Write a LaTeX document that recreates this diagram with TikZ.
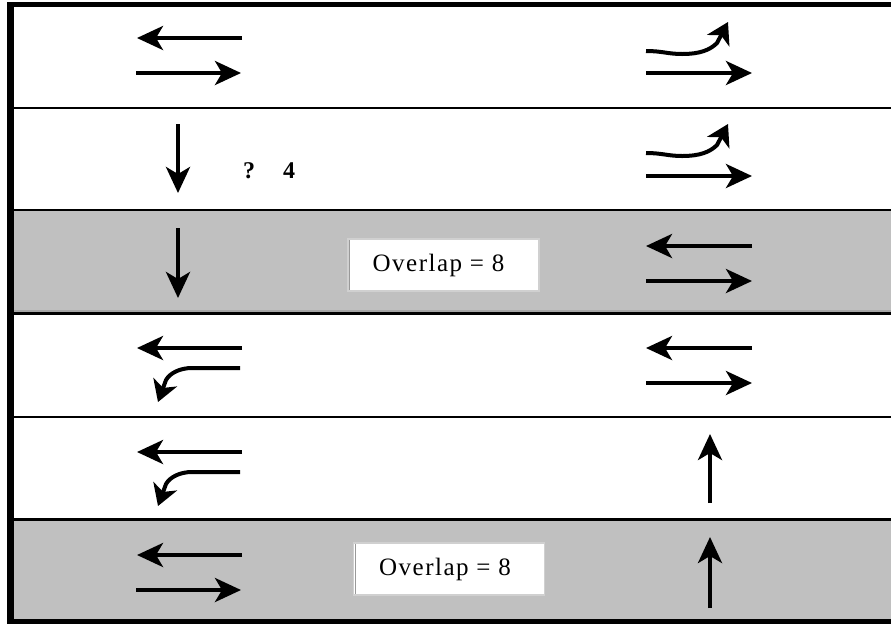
\documentclass[tikz,border=0pt]{standalone}
\usepackage{fontspec}
\setmainfont{Liberation Serif}
\newfontfamily\spacedfont[LetterSpace=6]{Liberation Serif}
\usetikzlibrary{arrows.meta}
\definecolor{band}{HTML}{C0C0C0}
\definecolor{boxedge}{HTML}{D0D0D0}
\tikzset{
  lane/.style={line width=4pt, -{Stealth[length=26pt, width=24pt, inset=7pt]}},
  turn/.style={line width=4pt, line join=round, -{Stealth[length=21pt, width=25pt, inset=6pt]}},
  rule/.style={line width=2.5pt},
  notebox/.style={fill=white, draw=boxedge, line width=1.2pt, minimum width=191pt,
    minimum height=52pt, inner sep=0pt},
  notetext/.style={font=\spacedfont\fontsize{25}{28}\selectfont, inner sep=0pt},
  marker/.style={font={\fontsize{24}{28}\selectfont\bfseries}, inner sep=0pt}
}
\begin{document}
\begin{tikzpicture}[x=1pt, y=-1pt]
\useasboundingbox (0,0) rectangle (891,625);

% shaded rows
\fill[band] (14,211) rectangle (891,312);
\fill[band] (14,521) rectangle (891,620);
\draw[gray!70, line width=1.5pt] (14,311) -- (891,311);

% row separators
\draw[rule] (14,108) -- (891,108);
\draw[rule] (14,210) -- (891,210);
\draw[rule] (14,313.5) -- (891,313.5);
\draw[rule] (14,417) -- (891,417);
\draw[rule] (14,519.5) -- (891,519.5);

% outer frame
\draw[line width=5pt] (7,4.5) -- (891,4.5);
\draw[line width=5pt] (7,621.5) -- (891,621.5);
\draw[line width=7pt] (10.5,2) -- (10.5,624);

% row 1
\draw[lane] (242,38) -- (137,38);
\draw[lane] (136,73) -- (241,73);
\draw[lane] (646,73) -- (752,73);

% right-turn arrows, rows 1 and 2
\foreach \dy in {0,102} {
  \draw[turn] (646,51+\dy) .. controls (662,51+\dy) and (668,54+\dy) .. (682,54+\dy)
    .. controls (700,54+\dy) and (710,50+\dy) .. (717,43+\dy) -- (728,22+\dy);
}

% row 2
\draw[lane] (178,124) -- (178,193);
\node[marker] (q) at (249,171) {?};
\node[marker] (four) at (289,171) {4};
\draw[lane] (646,176) -- (752,176);

% row 3
\draw[lane] (178,228) -- (178,298);
\node[notebox] (ov1) at (443.5,265) {};
\draw[gray!80, line width=0.8pt] ([xshift=2pt,yshift=-2pt]ov1.north west) -- ([xshift=2pt,yshift=2pt]ov1.south west);
\node[notetext] (ov1text) at ([xshift=-5pt]ov1.center) {Overlap = 8};
\draw[lane] (752,246) -- (646,246);
\draw[lane] (646,281) -- (752,281);

% row 4
\draw[lane] (242,348) -- (137,348);
\draw[lane] (752,348) -- (646,348);
\draw[lane] (646,383) -- (752,383);

% left-turn arrows, rows 4 and 5
\foreach \dy in {0,104} {
  \draw[turn] (240,368+\dy) -- (192,368+\dy)
    .. controls (180,368+\dy) and (170,373+\dy) .. (166,380+\dy) -- (158,402+\dy);
}

% row 5
\draw[lane] (242,452) -- (137,452);
\draw[lane] (710,503) -- (710,434);

% row 6
\draw[lane] (242,555) -- (137,555);
\draw[lane] (136,590) -- (241,590);
\node[notebox] (ov2) at (449,569) {};
\draw[gray!80, line width=0.8pt] ([xshift=2pt,yshift=-2pt]ov2.north west) -- ([xshift=2pt,yshift=2pt]ov2.south west);
\node[notetext] (ov2text) at ([xshift=-4pt]ov2.center) {Overlap = 8};
\draw[lane] (710,608) -- (710,537);
\end{tikzpicture}
\end{document}
